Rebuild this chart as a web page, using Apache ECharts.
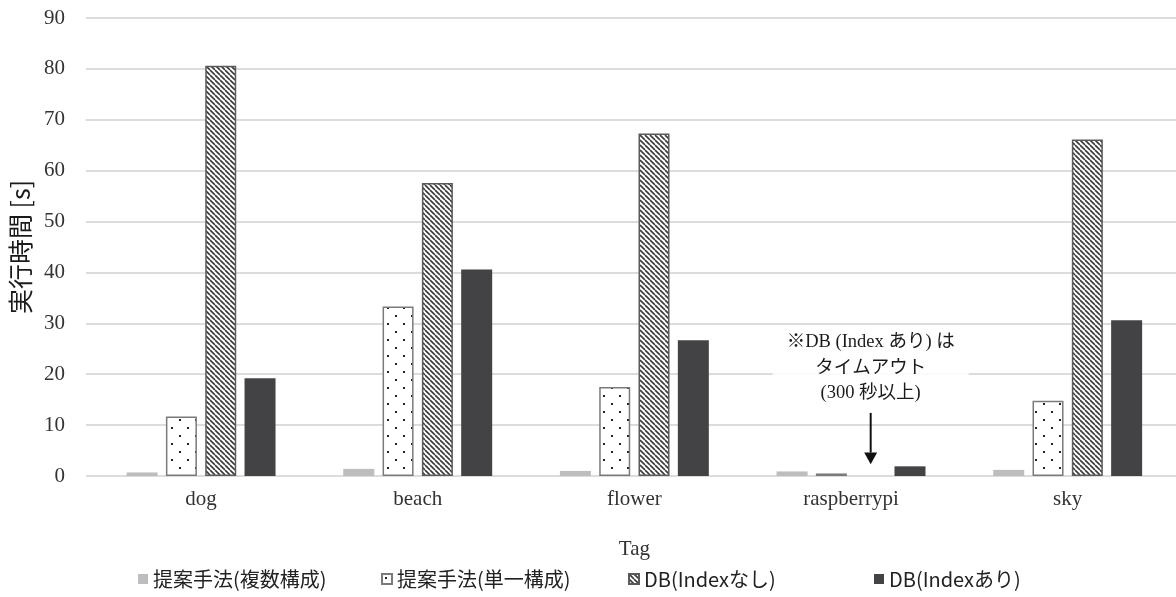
<!DOCTYPE html>
<html>
<head>
<meta charset="utf-8">
<title>実行時間</title>
<script src="https://cdn.jsdelivr.net/npm/echarts@6/dist/echarts.min.js"></script>
<style>
  html, body { margin: 0; padding: 0; background: #fff; }
  #chart { width: 1176px; height: 597px; }
</style>
</head>
<body>
<div id="chart"></div>
<script>
// Tags on the x axis
const categories = ['dog', 'beach', 'flower', 'raspberrypi', 'sky'];

// Execution time per tag [s]
const proposedMulti  = [0.7, 1.4, 1.0, 0.9, 1.2];     // 提案手法(複数構成)
const proposedSingle = [11.7, 33.3, 17.5, 0.5, 14.8]; // 提案手法(単一構成)
const dbNoIndex      = [80.6, 57.6, 67.3, null, 66.1]; // DB(Indexなし) – raspberrypi timed out
const dbWithIndex    = [19.2, 40.6, 26.7, 1.9, 30.6];  // DB(Indexあり)

const seriesNames = ['提案手法(複数構成)', '提案手法(単一構成)', 'DB(Indexなし)', 'DB(Indexあり)'];

// Value axis range
const yMin = 0, yMax = 90, yStep = 10;

const SERIF = '"Liberation Serif", "Times New Roman", serif';
const GOTHIC = '"Noto Sans CJK JP", "Noto Sans", sans-serif';
const MIXED = '"Liberation Serif", "Noto Sans CJK JP", serif';

const BAR_W = 31;
const BAR_GAP_PX = 8.3;

// Dotted fill
function dotPattern() {
  const c = document.createElement('canvas');
  c.width = 16; c.height = 16;
  const g = c.getContext('2d');
  g.fillStyle = '#fff';
  g.fillRect(0, 0, 16, 16);
  g.fillStyle = '#222';
  g.fillRect(3, 3, 2, 2);
  g.fillRect(11, 11, 2, 2);
  return c;
}

// Diagonal hatch fill
function hatchPattern() {
  const s = 5;
  const c = document.createElement('canvas');
  c.width = s; c.height = s;
  const g = c.getContext('2d');
  g.fillStyle = '#fff';
  g.fillRect(0, 0, s, s);
  g.strokeStyle = '#3a3a3a';
  g.lineWidth = 1.6;
  for (let k = -1; k <= 1; k++) {
    g.beginPath();
    g.moveTo(k * s, 0);
    g.lineTo(k * s + s, s);
    g.stroke();
  }
  return c;
}

const chart = echarts.init(document.getElementById('chart'), null, { renderer: 'canvas' });

const plotTop = 18, plotBottom = 121;

// One legend block per series so each entry sits at its own spot
const legendLefts = [133, 376, 623, 869];
const legends = seriesNames.map((n, i) => ({
  left: legendLefts[i],
  bottom: 3,
  itemWidth: 10,
  itemHeight: 10,
  icon: 'rect',
  textStyle: { fontFamily: GOTHIC, fontSize: 20, color: '#222' },
  data: [n]
}));

const option = {
  animation: false,
  backgroundColor: '#fff',
  grid: [
    // gridline frame
    { left: 81, right: 0, top: plotTop, bottom: plotBottom },
    // bar area
    { left: 92.75, width: 1087.5, top: plotTop, bottom: plotBottom }
  ],
  legend: legends,
  xAxis: [
    { gridIndex: 0, type: 'value', min: 0, max: 1, show: false },
    {
      gridIndex: 1,
      type: 'category',
      data: categories,
      axisLine: { show: false },
      axisTick: { show: false },
      axisLabel: { fontFamily: SERIF, fontSize: 21, color: '#333', margin: 13 },
      name: 'Tag',
      nameLocation: 'middle',
      nameGap: 63,
      nameTextStyle: { fontFamily: SERIF, fontSize: 21, color: '#333' }
    }
  ],
  yAxis: [
    {
      gridIndex: 0,
      type: 'value',
      min: yMin, max: yMax, interval: yStep,
      axisLine: { show: false },
      axisTick: { show: false },
      axisLabel: { fontFamily: SERIF, fontSize: 21, color: '#333', margin: 21 },
      splitLine: { lineStyle: { color: '#dcdcdc', width: 2 } },
      name: '実行時間 [s]',
      nameLocation: 'middle',
      nameGap: 42,
      nameRotate: 90,
      nameTextStyle: { fontFamily: GOTHIC, fontSize: 25, color: '#1a1a1a' }
    },
    {
      gridIndex: 1,
      type: 'value',
      min: yMin, max: yMax, interval: yStep,
      show: false,
      splitLine: { show: false }
    }
  ],
  series: [
    {
      name: seriesNames[0], type: 'bar', xAxisIndex: 1, yAxisIndex: 1,
      data: proposedMulti, barWidth: BAR_W, barGap: (BAR_GAP_PX / BAR_W * 100).toFixed(1) + '%',
      itemStyle: { color: '#bdbdbf' }
    },
    {
      name: seriesNames[1], type: 'bar', xAxisIndex: 1, yAxisIndex: 1,
      data: proposedSingle, barWidth: BAR_W,
      itemStyle: { color: { image: dotPattern(), repeat: 'repeat' }, borderColor: '#7a7a7a', borderWidth: 1.5 }
    },
    {
      name: seriesNames[2], type: 'bar', xAxisIndex: 1, yAxisIndex: 1,
      data: dbNoIndex, barWidth: BAR_W,
      itemStyle: { color: { image: hatchPattern(), repeat: 'repeat' }, borderColor: '#5a5a5a', borderWidth: 1.5 }
    },
    {
      name: seriesNames[3], type: 'bar', xAxisIndex: 1, yAxisIndex: 1,
      data: dbWithIndex, barWidth: BAR_W,
      itemStyle: { color: '#434345' }
    }
  ]
};

chart.setOption(option);

// Timeout note with arrow pointing at the missing DB(Indexなし) bar for raspberrypi
function drawNote() {
  const catIdx = categories.indexOf('raspberrypi');
  const slotOffset = (2 - 1.5) * (BAR_W + BAR_GAP_PX);
  const toPx = v => chart.convertToPixel({ xAxisIndex: 1, yAxisIndex: 1 }, [catIdx, v]);
  const textPt = toPx(21.2);
  const arrowTop = toPx(12.4);
  const headTop = toPx(4.6);
  const tip = toPx(2.3);
  const x = textPt[0] + slotOffset;
  chart.setOption({
    graphic: [
      {
        type: 'text',
        x: x, y: textPt[1],
        z: 10,
        style: {
          text: '※DB (Index あり) は\nタイムアウト\n(300 秒以上)',
          align: 'center',
          verticalAlign: 'middle',
          font: '18.5px ' + MIXED,
          lineHeight: 25.5,
          fill: '#1a1a1a',
          backgroundColor: 'rgba(255,255,255,0.88)',
          padding: [3, 14, 3, 14]
        }
      },
      {
        type: 'line',
        z: 10,
        shape: { x1: x, y1: arrowTop[1], x2: x, y2: headTop[1] },
        style: { stroke: '#111', lineWidth: 2 }
      },
      {
        type: 'polygon',
        z: 10,
        shape: { points: [[x - 6.5, headTop[1]], [x + 6.5, headTop[1]], [x, tip[1]]] },
        style: { fill: '#111' }
      }
    ]
  });
}
drawNote();
</script>
</body>
</html>
